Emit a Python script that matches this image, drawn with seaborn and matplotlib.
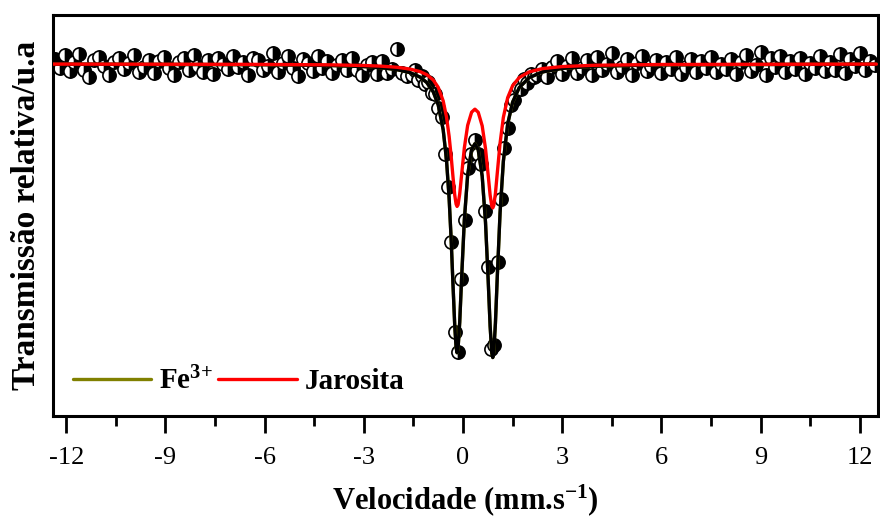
import matplotlib
matplotlib.use("Agg")
import matplotlib.pyplot as plt
import seaborn as sns
import pandas as pd
import numpy as np

# ---------------- data (velocity in mm/s, relative transmission in %) ----------------
vel_left = [-12.35, -12.20, -12.05, -11.90, -11.75, -11.60, -11.45, -11.30, -11.15, -11.00,
            -10.85, -10.70, -10.55, -10.40, -10.25, -10.10, -9.95, -9.80, -9.65, -9.50,
            -9.35, -9.20, -9.05, -8.90, -8.75, -8.60, -8.45, -8.30, -8.15, -8.00,
            -7.85, -7.70, -7.55, -7.40, -7.25, -7.10, -6.95, -6.80, -6.65, -6.50,
            -6.35, -6.20, -6.05, -5.90, -5.75, -5.60, -5.45, -5.30, -5.15, -5.00,
            -4.85, -4.70, -4.55, -4.40, -4.25, -4.10, -3.95, -3.80, -3.65, -3.50,
            -3.35, -3.20, -3.05, -2.90, -2.75, -2.60, -2.45, -2.30, -2.15, -2.00,
            -1.85, -1.70, -1.55]
trans_left = [100.10, 99.93, 100.18, 99.86, 100.04, 100.20, 99.89, 99.74, 100.08, 100.15,
              99.96, 99.79, 100.05, 100.13, 99.91, 100.02, 100.19, 99.85, 99.95, 100.09,
              99.82, 100.06, 100.14, 99.92, 99.78, 100.04, 100.12, 99.88, 100.18, 99.97,
              99.84, 100.08, 99.80, 100.12, 100.01, 99.91, 100.16, 99.95, 100.05, 99.79,
              100.13, 100.09, 99.88, 99.96, 100.22, 99.84, 100.03, 100.17, 99.92, 99.76,
              100.10, 100.02, 99.87, 100.16, 99.92, 100.06, 99.82, 99.99, 100.09, 99.89,
              100.13, 99.88, 99.79, 99.99, 100.05, 99.80, 100.06, 99.83, 99.91, 100.30,
              99.82, 99.76, 99.78]

vel_dip = [-1.45, -1.35, -1.25, -1.15, -1.05, -0.95, -0.85, -0.75, -0.65, -0.55,
           -0.45, -0.35, -0.25, -0.15, -0.05, 0.05, 0.15, 0.25, 0.35, 0.45,
           0.55, 0.65, 0.75, 0.85, 0.95, 1.05, 1.15, 1.25, 1.35, 1.45,
           1.55, 1.65, 1.75, 1.85, 1.95, 2.05, 2.15]
trans_dip = [99.89, 99.68, 99.77, 99.60, 99.64, 99.43, 99.40, 99.13, 98.95, 98.20,
             97.54, 96.43, 94.64, 94.25, 95.70, 96.89, 97.92, 98.21, 98.49, 98.21,
             98.00, 97.07, 95.93, 94.29, 94.37, 96.05, 97.29, 98.33, 98.72, 99.18,
             99.28, 99.54, 99.51, 99.70, 99.63, 99.81, 99.74]

vel_right = [2.25, 2.40, 2.55, 2.70, 2.85, 3.00, 3.15, 3.30, 3.45, 3.60,
             3.75, 3.90, 4.05, 4.20, 4.35, 4.50, 4.65, 4.80, 4.95, 5.10,
             5.25, 5.40, 5.55, 5.70, 5.85, 6.00, 6.15, 6.30, 6.45, 6.60,
             6.75, 6.90, 7.05, 7.20, 7.35, 7.50, 7.65, 7.80, 7.95, 8.10,
             8.25, 8.40, 8.55, 8.70, 8.85, 9.00, 9.15, 9.30, 9.45, 9.60,
             9.75, 9.90, 10.05, 10.20, 10.35, 10.50, 10.65, 10.80, 10.95, 11.10,
             11.25, 11.40, 11.55, 11.70, 11.85, 12.00, 12.15, 12.30, 12.45]
trans_right = [99.78, 99.90, 99.74, 99.95, 100.06, 99.81, 99.97, 100.13, 99.83, 99.92,
               100.08, 99.78, 100.15, 99.89, 100.00, 100.22, 99.85, 99.94, 100.10, 99.79,
               100.02, 100.16, 99.87, 99.97, 100.09, 99.83, 100.04, 99.90, 100.14, 99.81,
               99.95, 100.11, 99.85, 100.06, 99.93, 100.15, 99.84, 100.01, 99.91, 100.10,
               99.80, 100.05, 100.19, 99.87, 99.98, 100.24, 99.78, 100.12, 99.94, 100.17,
               99.84, 100.07, 99.90, 100.13, 99.81, 100.03, 99.93, 100.16, 99.86, 100.05,
               99.89, 100.20, 99.83, 100.11, 99.96, 100.22, 99.88, 100.06, 99.99]

fit_vel = [-12.4, -6, -4, -3, -2.5, -2, -1.6, -1.3, -1.1, -0.9,
           -0.75, -0.6, -0.5, -0.42, -0.36, -0.30, -0.25, -0.21, -0.18, -0.15,
           -0.10, -0.04, 0.04, 0.14, 0.26, 0.36, 0.46, 0.58, 0.68, 0.76,
           0.82, 0.87, 0.90, 0.93, 0.98, 1.04, 1.12, 1.22, 1.35, 1.5,
           1.7, 2.0, 2.4, 3, 4, 6, 12.5]
fit_fe3 = [99.997, 99.986, 99.970, 99.948, 99.927, 99.888, 99.827, 99.738, 99.632, 99.443,
           99.181, 98.686, 98.083, 97.313, 96.508, 95.539, 94.760, 94.338, 94.225, 94.314,
           94.837, 95.757, 96.878, 97.782, 98.293, 98.406, 98.283, 97.758, 96.834, 95.691,
           94.754, 94.220, 94.129, 94.243, 94.817, 95.804, 97.020, 98.053, 98.798, 99.237,
           99.528, 99.727, 99.841, 99.912, 99.956, 99.983, 99.997]
fit_jarosita = [99.998, 99.992, 99.983, 99.970, 99.958, 99.935, 99.899, 99.848, 99.788, 99.680,
                99.533, 99.262, 98.942, 98.552, 98.163, 97.718, 97.378, 97.199, 97.151, 97.185,
                97.402, 97.802, 98.323, 98.772, 99.037, 99.097, 99.034, 98.763, 98.308, 97.782,
                97.377, 97.157, 97.122, 97.171, 97.413, 97.847, 98.415, 98.932, 99.326, 99.566,
                99.729, 99.842, 99.908, 99.949, 99.975, 99.990, 99.998]

x_ticks = [-12, -9, -6, -3, 0, 3, 6, 9, 12]
legend_labels = ["Fe$^{3{+}}$", "Jarosita"]
x_label = "Velocidade (mm.s$^{-1}$)"
y_label = "Transmissão relativa/u.a"

# ---------------- style ----------------
sns.set_style("ticks")
plt.rcParams["font.family"] = ["Liberation Serif", "DejaVu Serif"]
plt.rcParams["mathtext.fontset"] = "custom"
plt.rcParams["mathtext.rm"] = "Liberation Serif:bold"
plt.rcParams["mathtext.bf"] = "Liberation Serif:bold"
plt.rcParams["mathtext.default"] = "rm"
plt.rcParams["text.color"] = "black"
plt.rcParams["axes.labelcolor"] = "black"
plt.rcParams["xtick.color"] = "black"
plt.rcParams["xtick.labelcolor"] = "black"

exp = pd.DataFrame({"v": vel_left + vel_dip + vel_right,
                    "t": trans_left + trans_dip + trans_right})
fit = pd.DataFrame({"v": fit_vel, "fe3": fit_fe3, "jar": fit_jarosita})

fig = plt.figure(figsize=(8.8, 5.22), dpi=100)
ax = fig.add_axes([53 / 880, 1 - 416 / 522, (878 - 53) / 880, (416 - 15) / 522])

sns.lineplot(data=exp, x="v", y="t", ax=ax, sort=False, estimator=None,
             color="black", linestyle="none", marker="o", markersize=9.5,
             fillstyle="right", markerfacecolor="black", markerfacecoloralt="white",
             markeredgecolor="black", markeredgewidth=1.2, zorder=2)
sns.lineplot(data=fit, x="v", y="fe3", ax=ax, sort=False, estimator=None,
             color="#808000", lw=2.4, zorder=3, label=legend_labels[0])
sns.lineplot(data=fit, x="v", y="fe3", ax=ax, sort=False, estimator=None,
             color="black", lw=2.4, zorder=4)
sns.lineplot(data=fit, x="v", y="jar", ax=ax, sort=False, estimator=None,
             color="#ff0000", lw=2.4, zorder=5, label=legend_labels[1])

ax.set_xlim(-12.4, 12.55)
ax.set_ylim(92.96, 100.98)
ax.set_xticks(x_ticks)
ax.set_xticklabels([str(t) for t in x_ticks], fontweight="normal")
ax.set_xticks(np.array(x_ticks[:-1]) + 1.5, minor=True)
ax.set_yticks([])
ax.tick_params(axis="x", which="major", direction="out", length=12.5, width=2,
               labelsize=19, pad=10, color="black", labelcolor="black")
ax.tick_params(axis="x", which="minor", direction="out", length=7.5, width=2, color="black")
for s in ax.spines.values():
    s.set_visible(True)
    s.set_linewidth(2.2)
    s.set_color("black")

ax.set_xlabel(x_label, fontsize=22, fontweight="bold", labelpad=9, color="black")
ax.set_ylabel(y_label, fontsize=24, fontweight="bold", labelpad=8, color="black")

handles, labels = ax.get_legend_handles_labels()
leg = ax.legend(handles, labels, loc="center left", bbox_to_anchor=(-0.008, 0.087),
                frameon=False, ncol=2, handlelength=2.7,
                handletextpad=0.25, columnspacing=0.2,
                prop={"family": "Liberation Serif", "weight": "bold", "size": 21})
for t in leg.get_texts():
    t.set_color("black")

fig.savefig("out.png", dpi=100)
